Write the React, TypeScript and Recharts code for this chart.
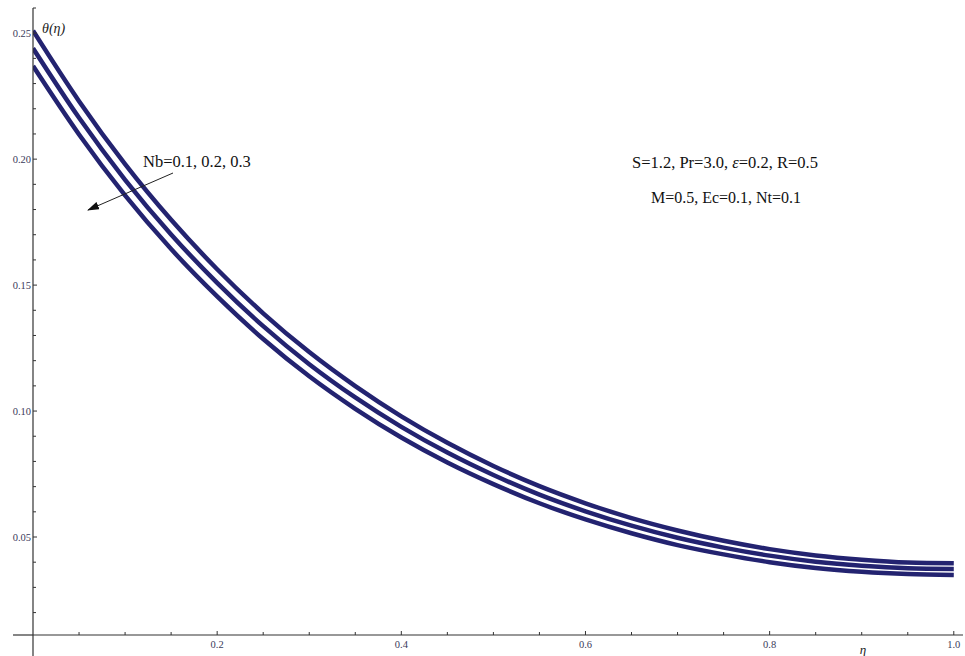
import { LineChart, Line, XAxis, YAxis, ReferenceLine } from 'recharts'

// η samples and θ(η), one array per Nb value
const eta = [0, 0.05, 0.1, 0.15, 0.2, 0.25, 0.3, 0.35, 0.4, 0.45, 0.5, 0.55, 0.6, 0.65, 0.7, 0.75, 0.8, 0.85, 0.9, 0.95, 1.0]
const thetaNb01 = [0.251, 0.223, 0.198, 0.1759, 0.1563, 0.1388, 0.1234, 0.1099, 0.0979, 0.0874, 0.0782, 0.0702, 0.0634, 0.0575, 0.0526, 0.0485, 0.0452, 0.0427, 0.041, 0.0399, 0.0396]
const thetaNb02 = [0.244, 0.2164, 0.1918, 0.1701, 0.1509, 0.1337, 0.1186, 0.1054, 0.0937, 0.0835, 0.0746, 0.0668, 0.0602, 0.0545, 0.0497, 0.0458, 0.0426, 0.0402, 0.0386, 0.0376, 0.0373]
const thetaNb03 = [0.237, 0.2098, 0.1856, 0.1643, 0.1455, 0.1286, 0.1138, 0.1009, 0.0895, 0.0796, 0.071, 0.0634, 0.057, 0.0515, 0.0468, 0.0431, 0.04, 0.0377, 0.0362, 0.0353, 0.0349]

const xTicks = [0.05, 0.1, 0.15, 0.2, 0.25, 0.3, 0.35, 0.4, 0.45, 0.5, 0.55, 0.6, 0.65, 0.7, 0.75, 0.8, 0.85, 0.9, 0.95, 1.0]
const yTicks = [0.02, 0.03, 0.04, 0.05, 0.06, 0.07, 0.08, 0.09, 0.1, 0.11, 0.12, 0.13, 0.14, 0.15, 0.16, 0.17, 0.18, 0.19, 0.2, 0.21, 0.22, 0.23, 0.24, 0.25, 0.26]

const data = eta.map((e, i) => ({
  eta: e,
  nb1: thetaNb01[i],
  nb2: thetaNb02[i],
  nb3: thetaNb03[i],
}))

const AXIS = '#333'
const LINE = '#232370'
const TICK_FONT = 'Liberation Serif, serif'

function XTick(props: any) {
  const { x, y, payload } = props
  const v = payload.value as number
  const major = Math.round(v * 100) % 20 === 0
  return (
    <g>
      <line x1={x} x2={x} y1={y} y2={y - (major ? 4 : 3)} stroke={AXIS} strokeWidth={1} />
      {major && (
        <text x={x} y={y + 13} textAnchor="middle" fontSize={10.5} fontFamily={TICK_FONT} fill="#3a3a5a">
          {v.toFixed(1)}
        </text>
      )}
    </g>
  )
}

function YTick(props: any) {
  const { x, y, payload } = props
  const v = payload.value as number
  const major = Math.round(v * 100) % 5 === 0
  return (
    <g>
      <line x1={x} x2={x + (major ? 4 : 3)} y1={y} y2={y} stroke={AXIS} strokeWidth={1} />
      {major && (
        <text x={x - 2} y={y + 3.5} textAnchor="end" fontSize={10.5} fontFamily={TICK_FONT} fill="#3a3a5a">
          {v.toFixed(2)}
        </text>
      )}
    </g>
  )
}

export default function App() {
  return (
    <div style={{ position: 'absolute', left: 0, top: 0, width: 965, height: 656, background: '#fff' }}>
      <LineChart width={965} height={656} data={data} margin={{ top: 8, right: 2, left: 0, bottom: 0 }}>
        <XAxis
          dataKey="eta"
          type="number"
          domain={[0, 1.01]}
          ticks={xTicks}
          allowDataOverflow
          height={21}
          tickSize={0}
          tickMargin={0}
          tickLine={false}
          axisLine={{ stroke: AXIS, strokeWidth: 1.2 }}
          tick={<XTick />}
          interval={0}
        />
        <YAxis
          type="number"
          domain={[0.0111, 0.26]}
          ticks={yTicks}
          allowDataOverflow
          width={33}
          tickSize={0}
          tickMargin={0}
          tickLine={false}
          axisLine={{ stroke: AXIS, strokeWidth: 1.2 }}
          tick={<YTick />}
          interval={0}
        />
        <ReferenceLine
          segment={[{ x: -0.0217, y: 0.0111 }, { x: 0, y: 0.0111 }]}
          stroke={AXIS}
          strokeWidth={1.2}
          ifOverflow="visible"
        />
        <ReferenceLine
          segment={[{ x: 0, y: 0.0111 }, { x: 0, y: 0.0025 }]}
          stroke={AXIS}
          strokeWidth={1.2}
          ifOverflow="visible"
        />
        <Line dataKey="nb1" type="monotone" stroke={LINE} strokeWidth={4.5} dot={false} isAnimationActive={false} />
        <Line dataKey="nb2" type="monotone" stroke={LINE} strokeWidth={4.5} dot={false} isAnimationActive={false} />
        <Line dataKey="nb3" type="monotone" stroke={LINE} strokeWidth={4.5} dot={false} isAnimationActive={false} />
      </LineChart>
      <svg
        width={965}
        height={656}
        style={{ position: 'absolute', left: 0, top: 0, pointerEvents: 'none' }}
        fontFamily="Liberation Serif, serif"
      >
        <defs>
          <marker id="head" markerWidth="12" markerHeight="8" refX="11" refY="4" orient="auto" markerUnits="userSpaceOnUse">
            <path d="M0,0 L12,4 L0,8 Z" fill="#111" />
          </marker>
        </defs>
        <text x={42} y={33} fontSize={14} fontStyle="italic" fill="#222">θ(η)</text>
        <text x={863} y={654} fontSize={13} fontStyle="italic" textAnchor="middle" fill="#222">η</text>
        <text x={143} y={167} fontSize={16.5} fill="#111">Nb=0.1, 0.2, 0.3</text>
        <line x1={173} y1={173} x2={88} y2={210} stroke="#222" strokeWidth={1} markerEnd="url(#head)" />
        <text x={725} y={168} fontSize={16.5} textAnchor="middle" fill="#111">
          S=1.2, Pr=3.0, <tspan fontStyle="italic">ε</tspan>=0.2, R=0.5
        </text>
        <text x={726} y={203} fontSize={16} textAnchor="middle" fill="#111">M=0.5, Ec=0.1, Nt=0.1</text>
      </svg>
    </div>
  )
}
